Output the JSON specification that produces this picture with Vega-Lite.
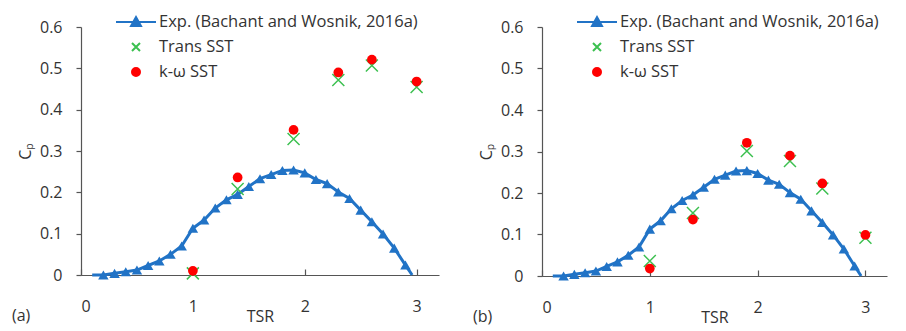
{
  "$schema": "https://vega.github.io/schema/vega-lite/v6.json",
  "background": "white",
  "padding": {"left": 12, "top": 11, "right": 2, "bottom": 2},
  "config": {
    "font": "Open Sans",
    "view": {"stroke": null},
    "axis": {"grid": false, "domainColor": "#555", "tickColor": "#555", "labelColor": "#333", "titleColor": "#333", "labelFont": "Open Sans", "titleFont": "Open Sans", "labelFontSize": 16, "titleFontSize": 16, "titleFontWeight": "normal", "domainWidth": 1.2, "tickWidth": 1.2},
    "title": {"font": "Open Sans", "fontSize": 16, "fontWeight": "normal", "color": "#333"}
  },
  "datasets": {
    "exp": [
      {"TSR": 0.1, "Cp": 0.0},
      {"TSR": 0.2, "Cp": 0.0},
      {"TSR": 0.3, "Cp": 0.004},
      {"TSR": 0.4, "Cp": 0.008},
      {"TSR": 0.5, "Cp": 0.012},
      {"TSR": 0.6, "Cp": 0.023},
      {"TSR": 0.7, "Cp": 0.034},
      {"TSR": 0.8, "Cp": 0.05},
      {"TSR": 0.9, "Cp": 0.07},
      {"TSR": 1.0, "Cp": 0.113},
      {"TSR": 1.1, "Cp": 0.133},
      {"TSR": 1.2, "Cp": 0.162},
      {"TSR": 1.3, "Cp": 0.182},
      {"TSR": 1.4, "Cp": 0.195},
      {"TSR": 1.5, "Cp": 0.214},
      {"TSR": 1.6, "Cp": 0.233},
      {"TSR": 1.7, "Cp": 0.243},
      {"TSR": 1.8, "Cp": 0.253},
      {"TSR": 1.9, "Cp": 0.254},
      {"TSR": 2.0, "Cp": 0.247},
      {"TSR": 2.1, "Cp": 0.231},
      {"TSR": 2.2, "Cp": 0.221},
      {"TSR": 2.3, "Cp": 0.201},
      {"TSR": 2.4, "Cp": 0.185},
      {"TSR": 2.5, "Cp": 0.157},
      {"TSR": 2.6, "Cp": 0.129},
      {"TSR": 2.7, "Cp": 0.099},
      {"TSR": 2.8, "Cp": 0.065},
      {"TSR": 2.9, "Cp": 0.024},
      {"TSR": 2.96, "Cp": 0.0}
    ],
    "sim": [
      {"panel": "a", "series": "Trans SST", "TSR": 1.0, "Cp": 0.004},
      {"panel": "a", "series": "Trans SST", "TSR": 1.4, "Cp": 0.208},
      {"panel": "a", "series": "Trans SST", "TSR": 1.9, "Cp": 0.329},
      {"panel": "a", "series": "Trans SST", "TSR": 2.3, "Cp": 0.472},
      {"panel": "a", "series": "Trans SST", "TSR": 2.6, "Cp": 0.507},
      {"panel": "a", "series": "Trans SST", "TSR": 3.0, "Cp": 0.455},
      {"panel": "a", "series": "k-ω SST", "TSR": 1.0, "Cp": 0.01},
      {"panel": "a", "series": "k-ω SST", "TSR": 1.4, "Cp": 0.236},
      {"panel": "a", "series": "k-ω SST", "TSR": 1.9, "Cp": 0.351},
      {"panel": "a", "series": "k-ω SST", "TSR": 2.3, "Cp": 0.49},
      {"panel": "a", "series": "k-ω SST", "TSR": 2.6, "Cp": 0.521},
      {"panel": "a", "series": "k-ω SST", "TSR": 3.0, "Cp": 0.468},
      {"panel": "b", "series": "Trans SST", "TSR": 1.0, "Cp": 0.036},
      {"panel": "b", "series": "Trans SST", "TSR": 1.4, "Cp": 0.152},
      {"panel": "b", "series": "Trans SST", "TSR": 1.9, "Cp": 0.301},
      {"panel": "b", "series": "Trans SST", "TSR": 2.3, "Cp": 0.277},
      {"panel": "b", "series": "Trans SST", "TSR": 2.6, "Cp": 0.211},
      {"panel": "b", "series": "Trans SST", "TSR": 3.0, "Cp": 0.092},
      {"panel": "b", "series": "k-ω SST", "TSR": 1.0, "Cp": 0.018},
      {"panel": "b", "series": "k-ω SST", "TSR": 1.4, "Cp": 0.136},
      {"panel": "b", "series": "k-ω SST", "TSR": 1.9, "Cp": 0.321},
      {"panel": "b", "series": "k-ω SST", "TSR": 2.3, "Cp": 0.29},
      {"panel": "b", "series": "k-ω SST", "TSR": 2.6, "Cp": 0.223},
      {"panel": "b", "series": "k-ω SST", "TSR": 3.0, "Cp": 0.099}
    ]
  },
  "spacing": 34,
  "resolve": {"scale": {"shape": "independent", "fill": "independent", "stroke": "independent", "x": "independent", "y": "independent"}, "legend": {"shape": "independent", "fill": "independent", "stroke": "independent"}},
  "hconcat": [
    {
      "width": 358,
      "height": 248,
      "title": {"text": "(a)", "orient": "bottom", "anchor": "start", "frame": "group", "dx": -69, "offset": -16},
      "encoding": {
        "x": {"field": "TSR", "type": "quantitative", "scale": {"domain": [0, 3.2], "nice": false}, "axis": {"values": [0, 1, 2, 3], "title": "TSR", "tickSize": -6, "labelPadding": 29, "titlePadding": -6}},
        "y": {"field": "Cp", "type": "quantitative", "scale": {"domain": [0, 0.6], "nice": false}, "axis": {"values": [0, 0.1, 0.2, 0.3, 0.4, 0.5, 0.6], "format": ".1~f", "title": "Cₚ", "tickSize": 5, "labelPadding": 14, "titlePadding": 6}}
      },
      "layer": [
        {"data": {"name": "exp"}, "mark": {"type": "line", "color": "#2173C6", "strokeWidth": 3}},
        {"data": {"name": "exp"}, "transform": [{"filter": "datum.TSR > 0.15 && datum.TSR < 2.93"}], "mark": {"type": "point", "shape": "triangle-up", "filled": true, "color": "#2173C6", "size": 110, "opacity": 1}},
        {"data": {"name": "sim"}, "transform": [{"filter": "datum.panel === 'a' && datum.series === 'Trans SST'"}],
          "mark": {"type": "point", "strokeWidth": 1.5, "size": 900, "opacity": 1},
          "encoding": {
            "shape": {"field": "series", "type": "nominal",
              "scale": {"domain": ["Exp. (Bachant and Wosnik, 2016a)", "Trans SST", "k-ω SST"], "range": ["M-2,0L2,0M-0.5,0.4L0.5,0.4L0,-0.5Z", "M-0.4,-0.4L0.4,0.4M-0.4,0.4L0.4,-0.4", "M-0.4,0A0.4,0.4,0,1,1,0.4,0A0.4,0.4,0,1,1,-0.4,0Z"]},
              "legend": {"orient": "none", "legendX": 44, "legendY": -16, "title": null, "symbolSize": 400, "symbolStrokeWidth": 2, "symbolOpacity": 1, "labelFont": "Open Sans", "labelFontSize": 16.5, "labelColor": "#333", "labelOffset": 12, "labelLimit": 0, "rowPadding": 5, "padding": 0}},
            "fill": {"field": "series", "type": "nominal", "scale": {"domain": ["Exp. (Bachant and Wosnik, 2016a)", "Trans SST", "k-ω SST"], "range": ["#2173C6", "#3CC050", "#FF0000"]},
              "legend": {"orient": "none", "legendX": 44, "legendY": -16, "title": null, "symbolSize": 400, "symbolStrokeWidth": 2, "symbolOpacity": 1, "labelFont": "Open Sans", "labelFontSize": 16.5, "labelColor": "#333", "labelOffset": 12, "labelLimit": 0, "rowPadding": 5, "padding": 0}},
            "stroke": {"field": "series", "type": "nominal", "scale": {"domain": ["Exp. (Bachant and Wosnik, 2016a)", "Trans SST", "k-ω SST"], "range": ["#2173C6", "#3CC050", "#FF0000"]},
              "legend": {"orient": "none", "legendX": 44, "legendY": -16, "title": null, "symbolSize": 400, "symbolStrokeWidth": 2, "symbolOpacity": 1, "labelFont": "Open Sans", "labelFontSize": 16.5, "labelColor": "#333", "labelOffset": 12, "labelLimit": 0, "rowPadding": 5, "padding": 0}}
          }
        },
        {"data": {"name": "sim"}, "transform": [{"filter": "datum.panel === 'a' && datum.series === 'k-ω SST'"}],
          "mark": {"type": "point", "shape": "circle", "filled": true, "color": "#FF0000", "size": 95, "opacity": 1}
        }
      ]
    },
    {
      "width": 345,
      "height": 249,
      "title": {"text": "(b)", "orient": "bottom", "anchor": "start", "frame": "group", "dx": -69, "offset": -16},
      "encoding": {
        "x": {"field": "TSR", "type": "quantitative", "scale": {"domain": [0, 3.2], "nice": false}, "axis": {"values": [0, 1, 2, 3], "title": "TSR", "tickSize": -6, "labelPadding": 29, "titlePadding": -6}},
        "y": {"field": "Cp", "type": "quantitative", "scale": {"domain": [0, 0.6], "nice": false}, "axis": {"values": [0, 0.1, 0.2, 0.3, 0.4, 0.5, 0.6], "format": ".1~f", "title": "Cₚ", "tickSize": 5, "labelPadding": 14, "titlePadding": 6}}
      },
      "layer": [
        {"data": {"name": "exp"}, "mark": {"type": "line", "color": "#2173C6", "strokeWidth": 3}},
        {"data": {"name": "exp"}, "transform": [{"filter": "datum.TSR > 0.15 && datum.TSR < 2.93"}], "mark": {"type": "point", "shape": "triangle-up", "filled": true, "color": "#2173C6", "size": 110, "opacity": 1}},
        {"data": {"name": "sim"}, "transform": [{"filter": "datum.panel === 'b' && datum.series === 'Trans SST'"}],
          "mark": {"type": "point", "strokeWidth": 1.5, "size": 900, "opacity": 1},
          "encoding": {
            "shape": {"field": "series", "type": "nominal",
              "scale": {"domain": ["Exp. (Bachant and Wosnik, 2016a)", "Trans SST", "k-ω SST"], "range": ["M-2,0L2,0M-0.5,0.4L0.5,0.4L0,-0.5Z", "M-0.4,-0.4L0.4,0.4M-0.4,0.4L0.4,-0.4", "M-0.4,0A0.4,0.4,0,1,1,0.4,0A0.4,0.4,0,1,1,-0.4,0Z"]},
              "legend": {"orient": "none", "legendX": 44, "legendY": -16, "title": null, "symbolSize": 400, "symbolStrokeWidth": 2, "symbolOpacity": 1, "labelFont": "Open Sans", "labelFontSize": 16.5, "labelColor": "#333", "labelOffset": 12, "labelLimit": 0, "rowPadding": 5, "padding": 0}},
            "fill": {"field": "series", "type": "nominal", "scale": {"domain": ["Exp. (Bachant and Wosnik, 2016a)", "Trans SST", "k-ω SST"], "range": ["#2173C6", "#3CC050", "#FF0000"]},
              "legend": {"orient": "none", "legendX": 44, "legendY": -16, "title": null, "symbolSize": 400, "symbolStrokeWidth": 2, "symbolOpacity": 1, "labelFont": "Open Sans", "labelFontSize": 16.5, "labelColor": "#333", "labelOffset": 12, "labelLimit": 0, "rowPadding": 5, "padding": 0}},
            "stroke": {"field": "series", "type": "nominal", "scale": {"domain": ["Exp. (Bachant and Wosnik, 2016a)", "Trans SST", "k-ω SST"], "range": ["#2173C6", "#3CC050", "#FF0000"]},
              "legend": {"orient": "none", "legendX": 44, "legendY": -16, "title": null, "symbolSize": 400, "symbolStrokeWidth": 2, "symbolOpacity": 1, "labelFont": "Open Sans", "labelFontSize": 16.5, "labelColor": "#333", "labelOffset": 12, "labelLimit": 0, "rowPadding": 5, "padding": 0}}
          }
        },
        {"data": {"name": "sim"}, "transform": [{"filter": "datum.panel === 'b' && datum.series === 'k-ω SST'"}],
          "mark": {"type": "point", "shape": "circle", "filled": true, "color": "#FF0000", "size": 95, "opacity": 1}
        }
      ]
    }
  ]
}
